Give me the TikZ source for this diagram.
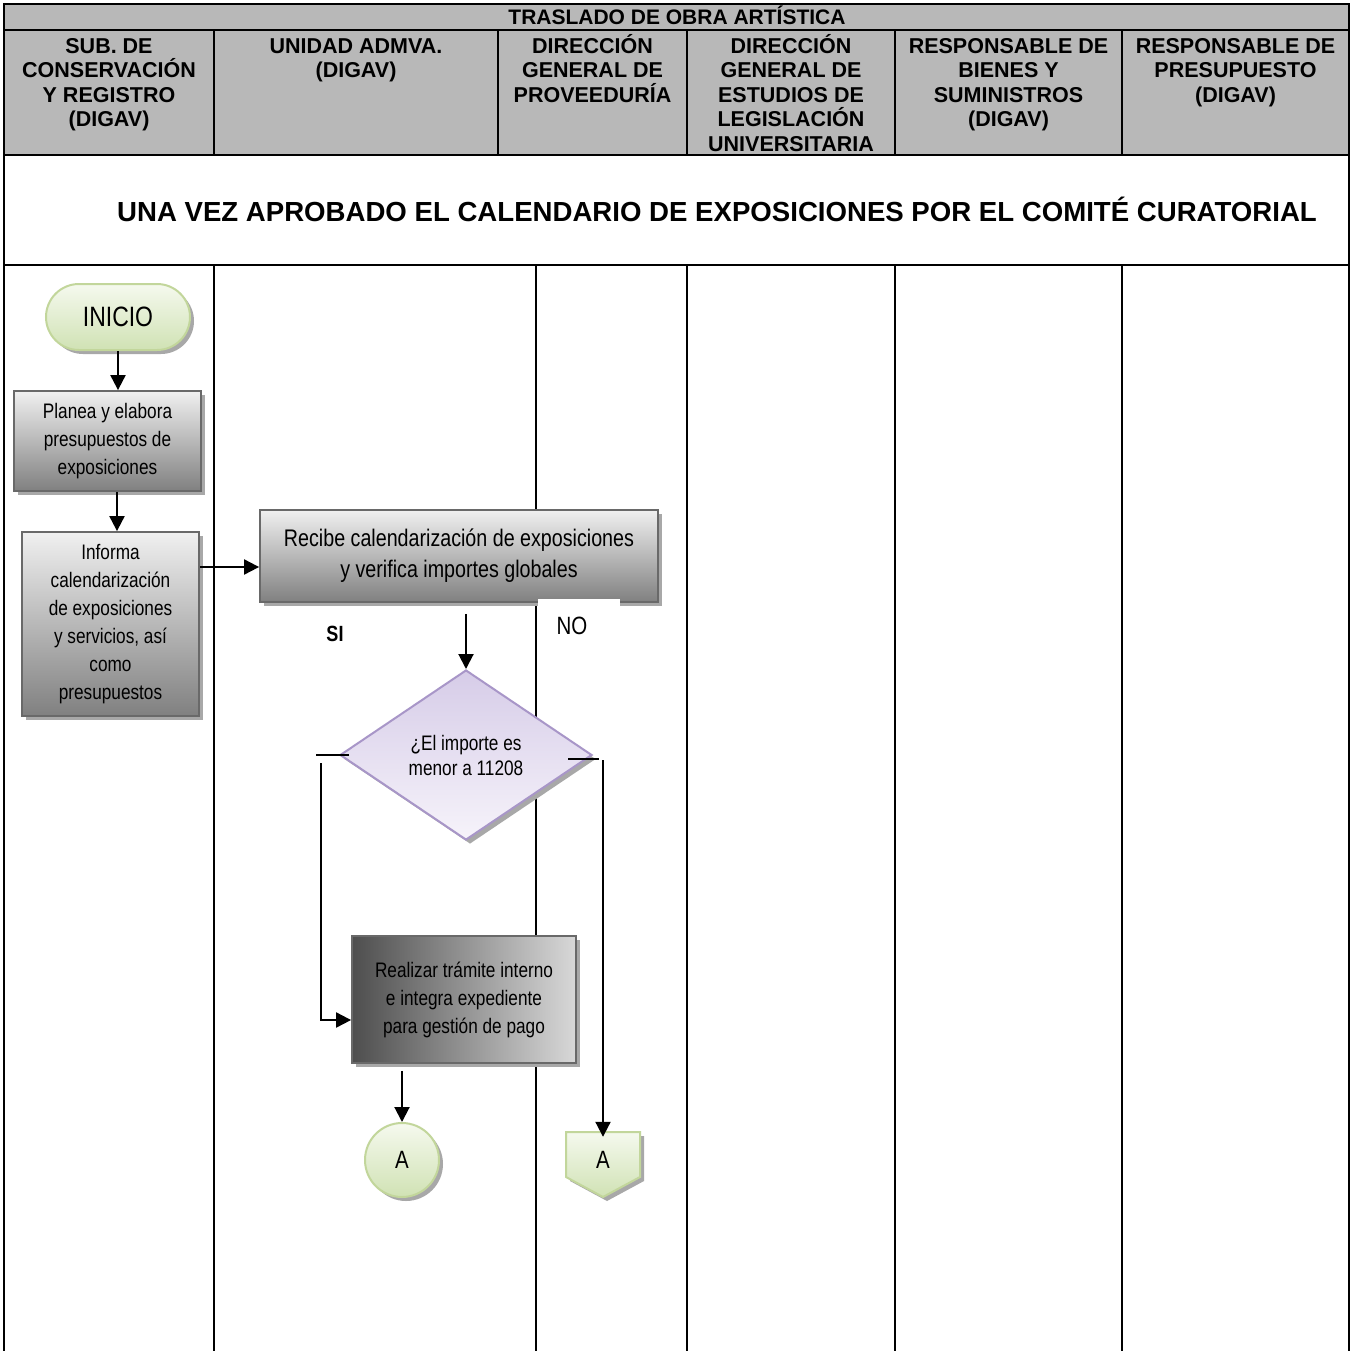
\documentclass[tikz,border=0pt]{standalone}
\usepackage{fontspec}
\setmainfont{Liberation Sans}
\newfontfamily\nar[FakeStretch=0.82]{Liberation Sans}
\usetikzlibrary{arrows.meta,shapes.geometric,shapes.misc,shadows,calc}
\definecolor{hdr}{RGB}{184,184,184}
\definecolor{boxline}{RGB}{105,105,105}
\definecolor{grtop}{RGB}{240,240,240}
\definecolor{grbot}{RGB}{128,128,128}
\definecolor{gline}{RGB}{194,214,155}
\definecolor{gtop}{RGB}{245,249,238}
\definecolor{gbot}{RGB}{208,226,180}
\definecolor{vline}{RGB}{168,150,200}
\definecolor{vtop}{RGB}{214,204,232}
\definecolor{vbot}{RGB}{246,243,250}
\definecolor{shd}{RGB}{168,168,168}
\definecolor{bfdark}{RGB}{78,78,78}
\definecolor{bflight}{RGB}{216,216,216}
\begin{document}
\begin{tikzpicture}[x=1pt,y=-1pt,
  lane/.style={line width=2.2pt},
  hdrtxt/.style={font=\bfseries\fontsize{21.5}{24.5}\selectfont, align=center, anchor=north, inner sep=0pt},
  shadowed/.style={drop shadow={shadow xshift=4pt,shadow yshift=-4pt,fill=shd,opacity=1}},
  procbox/.style={rectangle, draw=boxline, line width=1.8pt, top color=grtop, bottom color=grbot, shadowed, align=center, inner sep=2pt, font=\nar\fontsize{21}{28}\selectfont},
  greenshape/.style={draw=gline, line width=2pt, top color=gtop, bottom color=gbot, shadowed},
  arr/.style={line width=2pt, -{Triangle[length=15pt,width=15pt]}},
  conn/.style={line width=2pt},
]
\useasboundingbox (0,0) rectangle (1356,1351);
\fill[white] (0,0) rectangle (1356,1351);
% header background
\fill[hdr] (4,4) rectangle (1349,155);
\draw[lane] (3,4) -- (1350,4);
\draw[lane] (4,30) -- (1349,30);
\draw[lane] (4,155) -- (1349,155);
\draw[lane] (4,265) -- (1349,265);
\draw[lane] (4,4) -- (4,1351);
\draw[lane] (1349,4) -- (1349,1351);
\foreach \x in {214,498,687,895,1122} \draw[lane] (\x,30) -- (\x,155);
\foreach \x in {214,536,687,895,1122} \draw[lane] (\x,265) -- (\x,1351);

% titles
\node[font=\bfseries\fontsize{21}{25}\selectfont, inner sep=0pt, anchor=base] (title) at (677,25) {TRASLADO DE OBRA ARTÍSTICA};
\node[hdrtxt] (h1) at (109,33) {\rule{0pt}{20pt}SUB. DE\\CONSERVACIÓN\\Y REGISTRO\\(DIGAV)};
\node[hdrtxt] (h2) at (356,33) {\rule{0pt}{20pt}UNIDAD ADMVA.\\(DIGAV)};
\node[hdrtxt] (h3) at (592.5,33) {\rule{0pt}{20pt}DIRECCIÓN\\GENERAL DE\\PROVEEDURÍA};
\node[hdrtxt] (h4) at (791,33) {\rule{0pt}{20pt}DIRECCIÓN\\GENERAL DE\\ESTUDIOS DE\\LEGISLACIÓN\\UNIVERSITARIA};
\node[hdrtxt] (h5) at (1008.5,33) {\rule{0pt}{20pt}RESPONSABLE DE\\BIENES Y\\SUMINISTROS\\(DIGAV)};
\node[hdrtxt] (h6) at (1235.5,33) {\rule{0pt}{20pt}RESPONSABLE DE\\PRESUPUESTO\\(DIGAV)};
\node[font=\bfseries\fontsize{27.6}{32}\selectfont, inner sep=0pt, anchor=base] (band) at (717,221) {UNA VEZ APROBADO EL CALENDARIO DE EXPOSICIONES POR EL COMITÉ CURATORIAL};

% flow nodes
\node[rounded rectangle, greenshape, minimum width=144pt, minimum height=66pt, inner sep=0pt, font=\nar\fontsize{28}{30}\selectfont] (ini) at (118,317) {\raisebox{-4pt}{INICIO}};
\node[procbox, minimum width=187pt, minimum height=100pt] (b1) at (107.5,441) {Planea y elabora\\presupuestos de\\exposiciones};
\node[procbox, minimum width=177pt, minimum height=184pt] (b2) at (110.5,624) {Informa\\calendarización\\de exposiciones\\y servicios, así\\como\\presupuestos};
\node[procbox, minimum width=398pt, minimum height=92pt, font=\nar\fontsize{24}{31}\selectfont] (b3) at (459,556) {Recibe calendarización de exposiciones\\y verifica importes globales};
\node[diamond, draw=vline, line width=2pt, top color=vtop, bottom color=vbot, shadowed, minimum width=252pt, minimum height=170pt, inner sep=0pt, align=center, font=\nar\fontsize{21}{25}\selectfont] (dia) at (466,755) {¿El importe es\\menor a 11208};
\node[rectangle, draw=boxline, line width=1.8pt, left color=bfdark, right color=bflight, shadowed, align=center, minimum width=224pt, minimum height=127pt, font=\nar\fontsize{21}{28}\selectfont] (b4) at (464,999.5) {Realizar trámite interno\\e integra expediente\\para gestión de pago};
\node[circle, greenshape, minimum size=74pt, inner sep=0pt, font=\nar\fontsize{25}{28}\selectfont] (cA) at (402,1160) {A};
\draw[greenshape] (566,1132) -- (640,1132) -- (640,1177) -- (603,1197) -- (566,1177) -- cycle;
\node[rectangle, minimum width=74pt, minimum height=56pt, inner sep=0pt, font=\nar\fontsize{25}{28}\selectfont] (pA) at (603,1160) {A};

% white label boxes
\fill[white] (538,599) rectangle (620,662);
\fill[white] (308,607) rectangle (383,655);
\node[font=\nar\bfseries\fontsize{22}{24}\selectfont, inner sep=0pt] (si) at (335,634) {SI};
\node[font=\nar\fontsize{25}{28}\selectfont, inner sep=0pt] (no) at (572,626) {NO};

% connectors
\draw[arr] (ini.south) -- (ini.south |- b1.north);
\draw[arr] ([xshift=9.5pt]b1.south) -- ([xshift=9.5pt]b1.south |- b2.north);
\draw[arr] ([yshift=-11pt]b3.west -| b2.east) -- ([yshift=-11pt]b3.west);
\draw[arr] ([yshift=-11pt]b3.south -| dia.north) -- (dia.north);
\draw[conn] ([xshift=10pt]dia.west) -- ([xshift=-23pt]dia.west);
\draw[arr] ([xshift=-18pt,yshift=-8pt]dia.west) |- ([yshift=-20.5pt]b4.west);
\draw[conn] ([xshift=-25pt,yshift=-4pt]dia.east) -- ([xshift=6pt,yshift=-4pt]dia.east);
\draw[arr] ([xshift=10pt,yshift=-5pt]dia.east) -- ([xshift=10pt,yshift=-5pt]dia.east |- pA.north);
\draw[arr] ([yshift=-7pt]b4.south -| cA.north) -- (cA.north);
\end{tikzpicture}
\end{document}
